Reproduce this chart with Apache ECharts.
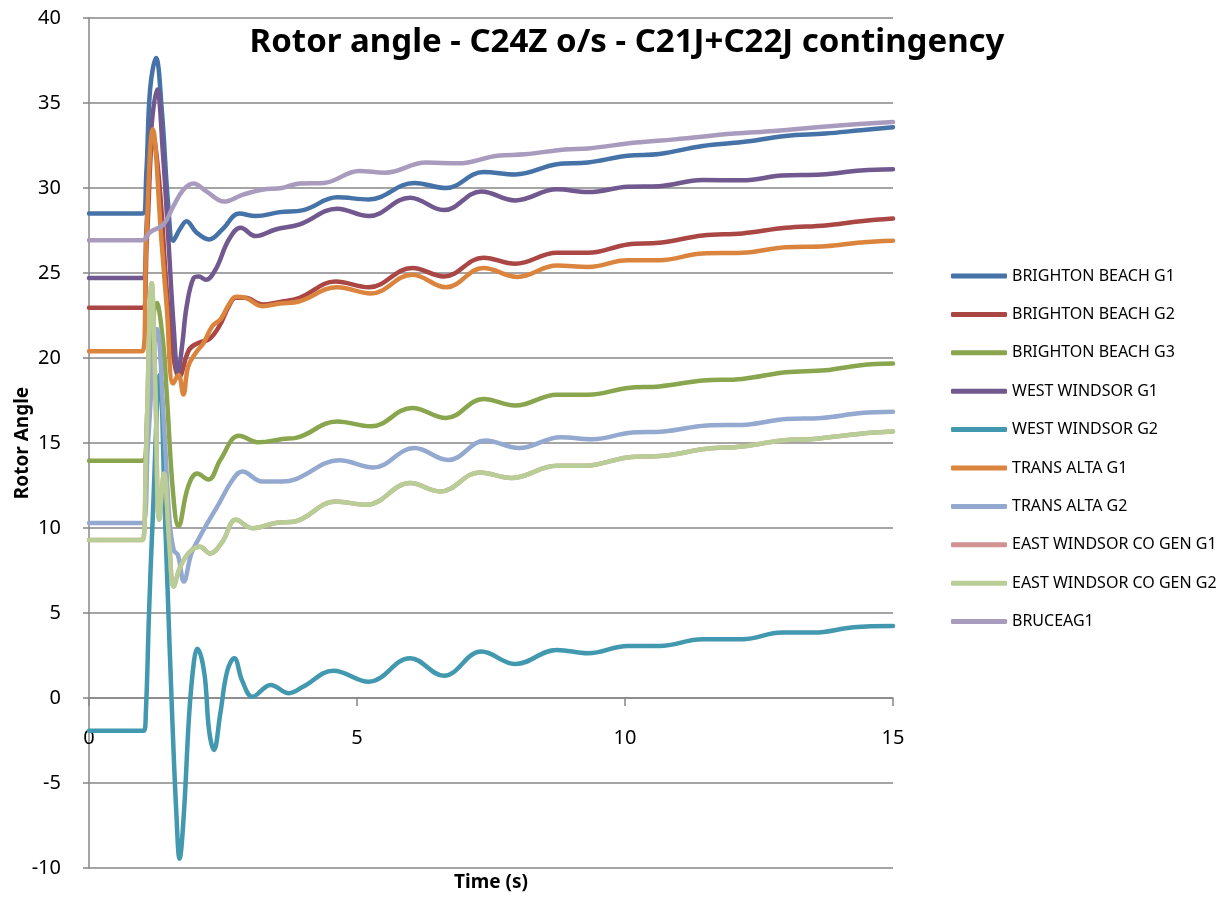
<!DOCTYPE html>
<html>
<head>
<meta charset="utf-8">
<script src="https://cdn.jsdelivr.net/npm/echarts@6/dist/echarts.min.js"></script>
<style>
  html, body { margin: 0; padding: 0; background: #fff; }
  #chart { width: 1219px; height: 902px; }
</style>
</head>
<body>
<div id="chart"></div>
<script>
// [time (s), rotor angle]
const bbG1 = [[0,28.5],[1.0,28.5],[1.07,30.9],[1.14,35.8],[1.25,37.65],[1.36,34.5],[1.48,28.9],[1.57,26.9],[1.7,27.6],[1.82,28.05],[2.0,27.4],[2.24,26.97],[2.5,27.6],[2.8,28.5],[3.11,28.35],[3.56,28.58],[4.0,28.7],[4.63,29.45],[5.22,29.33],[6.07,30.3],[6.66,30.0],[7.36,30.94],[7.95,30.8],[8.73,31.4],[9.31,31.5],[10.05,31.9],[10.64,32.0],[11.45,32.47],[12.19,32.7],[13.0,33.06],[13.74,33.2],[14.4,33.4],[15,33.57]];
const bbG2 = [[0,22.95],[1.0,22.95],[1.08,27],[1.2,33.0],[1.32,30],[1.45,24],[1.58,20],[1.68,18.9],[1.87,20.5],[2.05,20.9],[2.24,21.1],[2.43,21.87],[2.61,23.05],[2.74,23.54],[2.92,23.54],[3.23,23.15],[3.56,23.3],[3.93,23.54],[4.6,24.5],[5.22,24.16],[6.03,25.3],[6.62,24.8],[7.36,25.9],[7.95,25.54],[8.73,26.19],[9.31,26.19],[10.05,26.68],[10.64,26.78],[11.45,27.2],[12.19,27.33],[13.0,27.66],[13.74,27.8],[14.4,28.05],[15,28.2]];
const bbG3 = [[0,13.96],[1.0,13.96],[1.1,17.5],[1.27,23.24],[1.38,21],[1.45,17.9],[1.57,12.0],[1.67,10.1],[1.85,12.44],[2.02,13.2],[2.23,12.85],[2.45,14.0],[2.8,15.43],[3.17,15.04],[3.61,15.24],[3.86,15.3],[4.63,16.27],[5.26,15.98],[6.03,17.06],[6.66,16.47],[7.36,17.59],[7.95,17.2],[8.73,17.84],[9.31,17.84],[10.05,18.24],[10.64,18.33],[11.45,18.67],[12.19,18.77],[13.0,19.16],[13.74,19.28],[14.4,19.58],[15,19.67]];
const wwG1 = [[0,24.7],[1.0,24.7],[1.07,27.5],[1.15,33],[1.27,35.8],[1.38,32],[1.48,27],[1.58,21.8],[1.66,19.1],[1.74,20.8],[1.82,23.0],[1.95,24.7],[2.05,24.8],[2.18,24.6],[2.36,25.2],[2.61,26.97],[2.83,27.66],[3.11,27.17],[3.48,27.56],[3.93,27.86],[4.63,28.78],[5.22,28.35],[5.99,29.43],[6.62,28.7],[7.32,29.8],[7.95,29.27],[8.73,29.92],[9.31,29.76],[10.05,30.07],[10.64,30.11],[11.45,30.47],[12.19,30.45],[12.93,30.74],[13.67,30.8],[14.4,31.03],[15,31.1]];
const wwG2 = [[0,-1.92],[1.02,-1.92],[1.06,-0.9],[1.12,5.0],[1.18,9.9],[1.32,19],[1.42,10.5],[1.46,6.95],[1.55,-0.9],[1.63,-6.8],[1.69,-9.45],[1.77,-6.8],[1.87,-0.9],[1.96,2.2],[2.02,2.9],[2.15,1.5],[2.24,-1.9],[2.33,-3.06],[2.45,-0.9],[2.58,1.6],[2.71,2.34],[2.86,1.0],[3.05,0.08],[3.39,0.77],[3.73,0.28],[4.0,0.67],[4.56,1.61],[5.22,0.96],[5.99,2.34],[6.62,1.31],[7.32,2.73],[7.95,2.0],[8.73,2.83],[9.31,2.63],[10.05,3.06],[10.64,3.06],[11.45,3.45],[12.19,3.45],[12.93,3.85],[13.52,3.85],[14.26,4.16],[15,4.24]];
const taG1 = [[0,20.4],[1.0,20.4],[1.07,27],[1.19,33.45],[1.35,27],[1.45,23],[1.57,18.5],[1.67,19.0],[1.76,17.85],[1.85,19.5],[1.99,20.3],[2.14,20.9],[2.3,21.87],[2.46,22.3],[2.61,23.15],[2.74,23.6],[2.92,23.54],[3.23,23.05],[3.56,23.2],[3.93,23.34],[4.63,24.16],[5.26,23.8],[6.03,24.9],[6.66,24.16],[7.36,25.3],[7.99,24.77],[8.73,25.44],[9.31,25.36],[10.05,25.75],[10.64,25.75],[11.45,26.15],[12.19,26.19],[13.0,26.52],[13.74,26.58],[14.4,26.8],[15,26.9]];
const taG2 = [[0,10.29],[1.0,10.29],[1.1,15],[1.27,21.7],[1.4,16],[1.5,10.5],[1.58,8.7],[1.66,8.4],[1.77,6.85],[1.91,8.5],[2.07,9.5],[2.21,10.29],[2.43,11.47],[2.68,12.84],[2.86,13.33],[3.23,12.74],[3.61,12.74],[3.86,12.88],[4.67,13.98],[5.3,13.56],[6.07,14.7],[6.7,14.0],[7.4,15.15],[8.02,14.7],[8.8,15.34],[9.39,15.22],[10.13,15.62],[10.72,15.68],[11.53,16.03],[12.26,16.08],[13.0,16.41],[13.67,16.47],[14.4,16.76],[15,16.84]];
const ewG2 = [[0,9.3],[1.0,9.3],[1.06,14],[1.17,24.4],[1.24,18],[1.31,10.5],[1.4,13.2],[1.5,9],[1.58,6.56],[1.7,7.7],[1.88,8.6],[2.07,8.9],[2.26,8.5],[2.49,9.2],[2.74,10.48],[3.05,9.99],[3.48,10.29],[3.86,10.4],[4.6,11.56],[5.18,11.37],[5.99,12.64],[6.55,12.15],[7.29,13.27],[7.88,12.94],[8.73,13.66],[9.24,13.66],[10.05,14.15],[10.72,14.25],[11.53,14.66],[12.19,14.8],[12.93,15.15],[13.52,15.24],[14.4,15.55],[15,15.68]];
// G1 sits exactly under G2 in the picture
const ewG1 = ewG2;
const bruceG1 = [[0,26.93],[1.0,26.93],[1.14,27.4],[1.39,27.86],[1.57,28.9],[1.76,29.9],[1.95,30.27],[2.19,29.8],[2.52,29.2],[2.86,29.6],[3.23,29.9],[3.6,30.0],[3.93,30.27],[4.38,30.3],[5.04,31.0],[5.52,30.9],[6.29,31.5],[6.88,31.45],[7.62,31.9],[8.13,31.98],[8.87,32.27],[9.31,32.33],[10.2,32.67],[10.93,32.86],[12.04,33.2],[12.78,33.35],[13.88,33.65],[15,33.88]];

const names = ['BRIGHTON BEACH G1','BRIGHTON BEACH G2','BRIGHTON BEACH G3','WEST WINDSOR G1','WEST WINDSOR G2','TRANS ALTA G1','TRANS ALTA G2','EAST WINDSOR CO GEN G1','EAST WINDSOR CO GEN G2','BRUCEAG1'];
const values = [bbG1, bbG2, bbG3, wwG1, wwG2, taG1, taG2, ewG1, ewG2, bruceG1];
const colors = ['#4572A7','#AA4643','#89A54E','#71588F','#4198AF','#DB843D','#93A9CF','#D19392','#B9CD96','#A99BBD'];

const font = 'Noto Sans';
const gray = '#878787';

const yMin = -10, yMax = 40;
const gridTop = 18, gridBottom = 34, chartH = 902;
// x axis crosses at y = 0 (onZero is not honoured here, so shift it up by hand)
const xAxisShift = (chartH - gridTop - gridBottom) * (0 - yMin) / (yMax - yMin);

const chart = echarts.init(document.getElementById('chart'));
chart.setOption({
  animation: false,
  color: colors,
  title: {
    text: 'Rotor angle - C24Z o/s - C21J+C22J contingency',
    left: 622,
    textAlign: 'center',
    top: 21,
    textStyle: { fontFamily: font, fontSize: 33, fontWeight: 'bold', color: '#000' }
  },
  legend: {
    orient: 'vertical',
    left: 946,
    top: 263,
    itemWidth: 56,
    itemHeight: 5,
    itemGap: 22.4,
    icon: 'roundRect',
    data: names,
    textStyle: { fontFamily: font, fontSize: 16, color: '#000' }
  },
  grid: { left: 89, right: 326, top: gridTop, bottom: gridBottom, containLabel: false, outerBoundsMode: 'none' },
  xAxis: {
    type: 'value',
    min: 0, max: 15, interval: 5,
    offset: -xAxisShift,
    name: 'Time (s)',
    nameLocation: 'middle',
    nameGap: 175,
    nameMoveOverlap: false,
    nameTextStyle: { fontFamily: font, fontSize: 19, fontWeight: 'bold', color: '#000' },
    axisLine: { onZero: false, lineStyle: { color: gray, width: 1.5 } },
    axisTick: { show: true, length: 8, lineStyle: { color: gray, width: 1.5 } },
    axisLabel: { fontFamily: font, fontSize: 20, color: '#000', margin: 30 },
    splitLine: { show: false }
  },
  yAxis: {
    type: 'value',
    min: yMin, max: yMax, interval: 5,
    name: 'Rotor Angle',
    nameLocation: 'middle',
    nameRotate: 90,
    nameGap: 57,
    nameMoveOverlap: false,
    nameTextStyle: { fontFamily: font, fontSize: 19, fontWeight: 'bold', color: '#000' },
    axisLine: { show: true, lineStyle: { color: gray, width: 1.5 } },
    axisTick: { show: true, length: 6, lineStyle: { color: gray, width: 1.5 } },
    axisLabel: { fontFamily: font, fontSize: 20, color: '#000', margin: 28 },
    splitLine: { show: true, lineStyle: { color: gray, width: 1.5 } }
  },
  series: names.map((n, i) => ({
    name: n,
    type: 'line',
    data: values[i],
    smooth: 0.4,
    showSymbol: false,
    symbol: 'none',
    lineStyle: { width: 4.5, cap: 'round', join: 'round' }
  }))
});
</script>
</body>
</html>
